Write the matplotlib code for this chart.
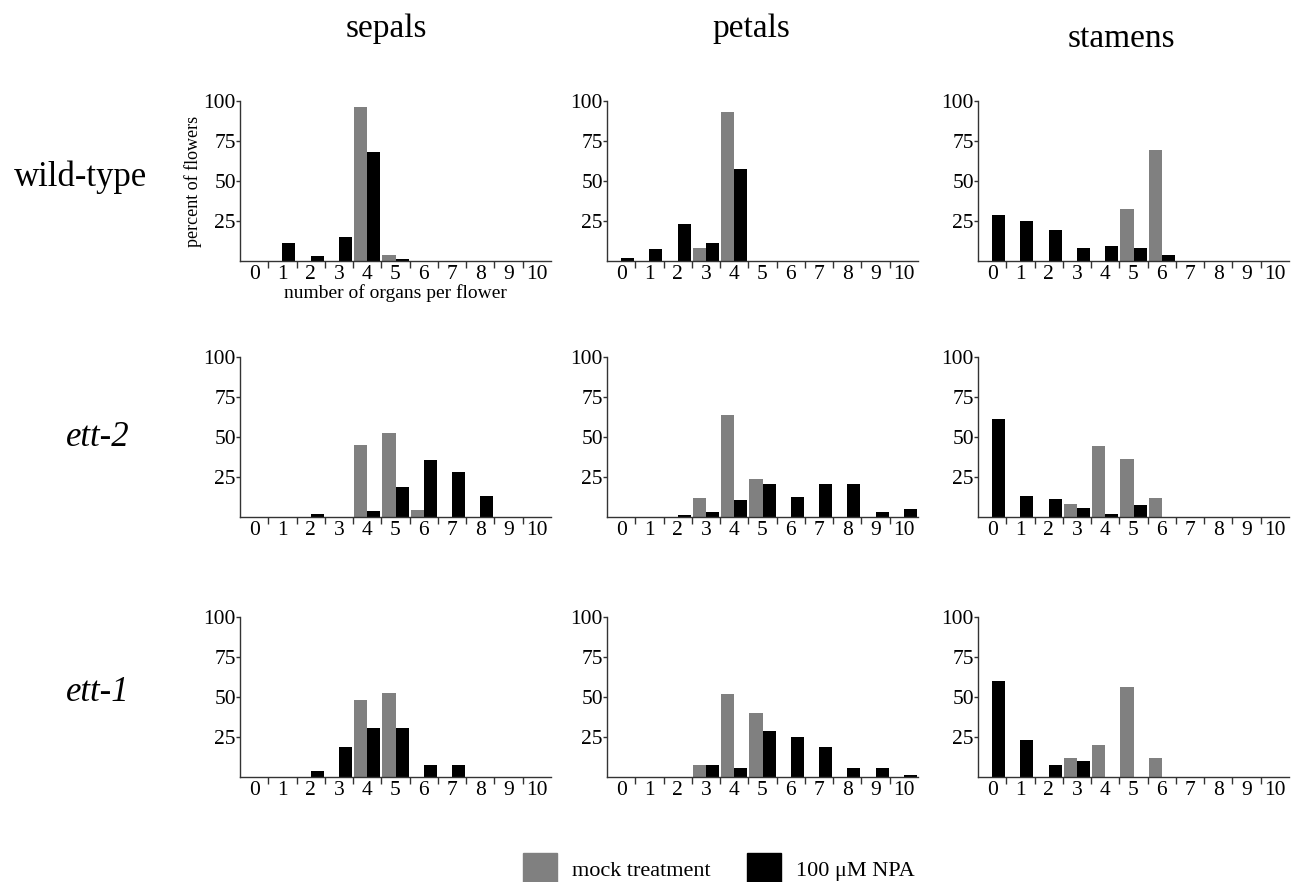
import numpy as np
import matplotlib
matplotlib.use("Agg")
import matplotlib.pyplot as plt
from matplotlib.patches import Rectangle

plt.rcParams['font.family'] = ['Liberation Serif', 'DejaVu Serif']

organs = np.arange(11)
col_titles = ["sepals", "petals", "stamens"]
row_titles = ["wild-type", "ett-2", "ett-1"]

# percent of flowers, organ counts 0..10
wt_sepals_mock = [0, 0, 0, 0, 96, 4, 0, 0, 0, 0, 0]
wt_sepals_npa = [0, 11, 3.3, 15, 68, 1.5, 0, 0, 0, 0, 0]
wt_petals_mock = [0, 0, 0, 8.4, 93, 0, 0, 0, 0, 0, 0]
wt_petals_npa = [2, 7.7, 23.4, 11.5, 57.2, 0, 0, 0, 0, 0, 0]
wt_stamens_mock = [0, 0, 0, 0, 0, 32.7, 69.2, 0, 0, 0, 0]
wt_stamens_npa = [28.9, 25.2, 19.5, 8.2, 9.4, 8.2, 3.8, 0, 0, 0, 0]

ett2_sepals_mock = [0, 0, 0, 0, 45.3, 52.8, 4.4, 0, 0, 0, 0]
ett2_sepals_npa = [0, 0, 1.9, 0, 3.8, 18.9, 35.8, 28.3, 13.2, 0, 0]
ett2_petals_mock = [0, 0, 0, 11.9, 63.9, 23.8, 0, 0, 0, 0, 0]
ett2_petals_npa = [0, 0, 1.3, 3.1, 10.6, 20.7, 12.5, 20.7, 20.7, 3.1, 5]
ett2_stamens_mock = [0, 0, 0, 8.1, 44.4, 36.3, 11.9, 0, 0, 0, 0]
ett2_stamens_npa = [61.3, 13.1, 11.2, 5.6, 1.9, 7.5, 0, 0, 0, 0, 0]

ett1_sepals_mock = [0, 0, 0, 0, 48.4, 52.2, 0, 0, 0, 0, 0]
ett1_sepals_npa = [0, 0, 4, 19, 30.9, 30.9, 7.7, 7.7, 0, 0, 0]
ett1_petals_mock = [0, 0, 0, 7.5, 52, 40.1, 0, 0, 0, 0, 0]
ett1_petals_npa = [0, 0, 0, 7.5, 5.6, 28.8, 25, 18.8, 5.6, 5.6, 1.3]
ett1_stamens_mock = [0, 0, 0, 11.9, 20, 56.4, 11.9, 0, 0, 0, 0]
ett1_stamens_npa = [60.1, 23.2, 7.5, 10, 0, 0, 0, 0, 0, 0, 0]

panels = [
    [(wt_sepals_mock, wt_sepals_npa), (wt_petals_mock, wt_petals_npa), (wt_stamens_mock, wt_stamens_npa)],
    [(ett2_sepals_mock, ett2_sepals_npa), (ett2_petals_mock, ett2_petals_npa), (ett2_stamens_mock, ett2_stamens_npa)],
    [(ett1_sepals_mock, ett1_sepals_npa), (ett1_petals_mock, ett1_petals_npa), (ett1_stamens_mock, ett1_stamens_npa)],
]

mock_color = "#808080"
npa_color = "#000000"

W, H = 1300, 882
fig = plt.figure(figsize=(13, 8.82), dpi=100)

col_left = [240, 607, 978]
row_top = [101, 357, 617]
ax_w, ax_h = 311, 160

for r in range(3):
    for c in range(3):
        ax = fig.add_axes([col_left[c] / W, 1 - (row_top[r] + ax_h) / H, ax_w / W, ax_h / H])
        mock, npa = panels[r][c]
        ax.bar(organs - 0.23, mock, width=0.46, color=mock_color, linewidth=0)
        ax.bar(organs + 0.23, npa, width=0.46, color=npa_color, linewidth=0)
        ax.set_xlim(-0.5, 10.5)
        ax.set_ylim(0, 100)
        ax.spines['top'].set_visible(False)
        ax.spines['right'].set_visible(False)
        for s in ('left', 'bottom'):
            ax.spines[s].set_linewidth(1.0)
            ax.spines[s].set_color("#333333")
        ax.set_yticks([25, 50, 75, 100])
        ax.set_xticks(organs)
        ax.set_xticks(np.arange(0.5, 10, 1), minor=True)
        ax.tick_params(axis='x', which='major', length=0, labelsize=15.5, pad=3)
        ax.tick_params(axis='x', which='minor', length=5, width=1, color="#333333")
        ax.tick_params(axis='y', length=3, width=1, labelsize=15.5, pad=0, color="#333333")
        if r == 0 and c == 0:
            ax.set_ylabel("percent of flowers", fontsize=13, labelpad=1)
            ax.set_xlabel("number of organs per flower", fontsize=14, labelpad=0)

# column titles
for t, x, y in zip(col_titles, [386, 751, 1121], [37, 37, 47]):
    fig.text(x / W, 1 - y / H, t, fontsize=24, ha='center', va='baseline')

# row titles
row_styles = ['normal', 'italic', 'italic']
for t, x, y, st in zip(row_titles, [81, 98, 98], [186, 446, 701], row_styles):
    fig.text(x / W, 1 - y / H, t, fontsize=25, ha='center', va='baseline', style=st)

# legend
legend_labels = ["mock treatment", "100 μM NPA"]
for color, x0, label in zip([mock_color, npa_color], [523, 747], legend_labels):
    fig.patches.append(Rectangle((x0 / W, 1 - 882 / H), 34 / W, 29 / H,
                                 transform=fig.transFigure, color=color))
    fig.text((x0 + 49) / W, 1 - 876 / H, label, fontsize=16, ha='left', va='baseline')

fig.savefig("out.png", dpi=100)
